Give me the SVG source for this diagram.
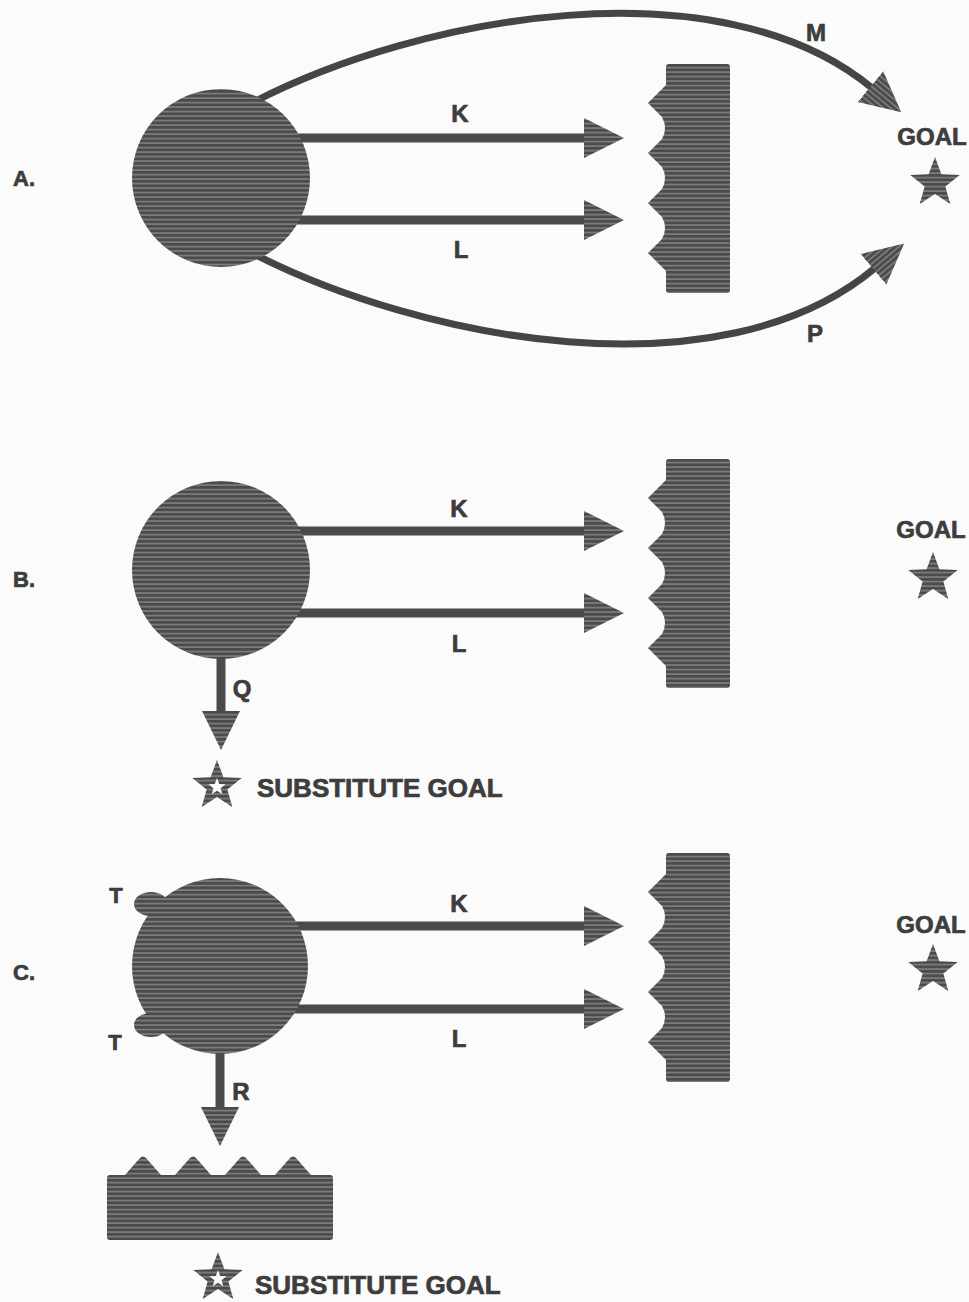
<svg xmlns="http://www.w3.org/2000/svg" width="969" height="1302" viewBox="0 0 969 1302">
<style>
.lbl{font-family:"Liberation Sans",Arial,sans-serif;font-weight:bold;fill:#3d3d3d;stroke:#3d3d3d;stroke-width:0.7;text-anchor:middle}
.sub{font-family:"Liberation Sans",Arial,sans-serif;font-weight:bold;fill:#3d3d3d;stroke:#3d3d3d;stroke-width:0.7}
.hat{fill:url(#h)}
.ln{stroke:#4a4a4a;stroke-width:9;fill:none}
.arc{stroke:#454545;stroke-width:7;fill:none}
</style>
<defs>
<pattern id="h" width="10" height="4.5" patternUnits="userSpaceOnUse">
<rect width="10" height="4.5" fill="#7a7a7a"/>
<rect width="10" height="2.7" fill="#4b4b4b"/>
</pattern>
<marker id="ah" markerUnits="userSpaceOnUse" markerWidth="42" markerHeight="42" viewBox="0 -21 42 42" refX="2" refY="0" orient="auto">
<path d="M0,-20 L40,0 L0,20 Z" fill="url(#h)"/>
</marker>
<marker id="ahd" markerUnits="userSpaceOnUse" markerWidth="42" markerHeight="42" viewBox="-21 0 42 42" refX="0" refY="2" orient="0">
<path d="M-19,0 L0,39 L19,0 Z" fill="url(#h)"/>
</marker>
<path id="barrier" d="M18,3 Q18,0 21,0 H79 Q82,0 82,3 V226 Q82,229 79,229 H21 Q18,229 18,226 V207 L1,190 Q-1,189 1,188 L14,175 Q20,164 14,153 L1,140 Q-1,139 1,138 L14,125 Q20,114 14,103 L1,90 Q-1,89 1,88 L14,75 Q20,64 14,53 L1,40 Q-1,39 1,38 L18,21 Z"/>
<path id="star" d="M0,-26 L6.42,-8.84 L24.73,-8.03 L10.37,3.38 L15.29,21.03 L0,10.92 L-15.29,21.03 L-10.37,3.38 L-24.73,-8.03 L-6.42,-8.84 Z"/>
<path id="istar" d="M0,-9 L2.22,-3.06 L8.56,-2.78 L3.59,1.17 L5.29,7.28 L0,3.78 L-5.29,7.28 L-3.59,1.17 L-8.56,-2.78 L-2.22,-3.06 Z"/>
</defs>
<rect width="969" height="1302" fill="#fbfbfb"/>

<g id="connectors">
<path class="ln" d="M290,138 H586" marker-end="url(#ah)"/>
<path class="ln" d="M290,220 H586" marker-end="url(#ah)"/>
<path class="arc" d="M250,104 C420,15 720,-38 872,88" marker-end="url(#ah)"/>
<path class="arc" d="M250,252 C420,340 720,398 875,268" marker-end="url(#ah)"/>
<path class="ln" d="M290,531 H586" marker-end="url(#ah)"/>
<path class="ln" d="M290,613 H586" marker-end="url(#ah)"/>
<path class="ln" d="M221,640 V713" marker-end="url(#ahd)"/>
<path class="ln" d="M290,926 H586" marker-end="url(#ah)"/>
<path class="ln" d="M290,1009 H586" marker-end="url(#ah)"/>
<path class="ln" d="M220,1040 V1109" marker-end="url(#ahd)"/>
</g>

<g id="labels-connectors">
<text class="lbl" x="460" y="122" font-size="24">K</text>
<text class="lbl" x="461" y="258" font-size="24">L</text>
<text class="lbl" x="816" y="41" font-size="24">M</text>
<text class="lbl" x="815" y="342" font-size="24">P</text>
<text class="lbl" x="459" y="517" font-size="24">K</text>
<text class="lbl" x="459" y="652" font-size="24">L</text>
<text class="lbl" x="242" y="697" font-size="24">Q</text>
<text class="lbl" x="459" y="912" font-size="24">K</text>
<text class="lbl" x="459" y="1047" font-size="24">L</text>
<text class="lbl" x="241" y="1100" font-size="24">R</text>
</g>

<g id="panel-labels">
<text class="lbl" x="24" y="186" font-size="22">A.</text>
<text class="lbl" x="24" y="587" font-size="22">B.</text>
<text class="lbl" x="24" y="980" font-size="22">C.</text>
</g>

<g id="personA"><circle class="hat" cx="221" cy="178" r="89"/></g>
<g id="barrierA"><use href="#barrier" class="hat" transform="translate(648,64)"/></g>
<g id="goalA">
<text class="lbl" x="932" y="145" font-size="24">GOAL</text>
<use href="#star" class="hat" transform="translate(935,183)"/>
</g>

<g id="personB"><circle class="hat" cx="221" cy="570" r="89"/></g>
<g id="barrierB"><use href="#barrier" class="hat" transform="translate(648,459)"/></g>
<g id="goalB">
<text class="lbl" x="931" y="538" font-size="24">GOAL</text>
<use href="#star" class="hat" transform="translate(933,578)"/>
</g>
<g id="substituteB">
<use href="#star" class="hat" transform="translate(217,786)"/>
<use href="#istar" fill="#fbfbfb" transform="translate(217,787)"/>
<text class="sub" x="257" y="797" font-size="26">SUBSTITUTE GOAL</text>
</g>

<g id="personC">
<ellipse class="hat" cx="151" cy="904" rx="17" ry="12"/>
<ellipse class="hat" cx="151" cy="1025" rx="17" ry="12"/>
<circle class="hat" cx="220" cy="966" r="88"/>
<text class="lbl" x="116" y="903" font-size="22">T</text>
<text class="lbl" x="115" y="1050" font-size="22">T</text>
</g>
<g id="barrierC"><use href="#barrier" class="hat" transform="translate(648,853)"/></g>
<g id="goalC">
<text class="lbl" x="931" y="933" font-size="24">GOAL</text>
<use href="#star" class="hat" transform="translate(933,970)"/>
</g>
<g id="barrierC2">
<path class="hat" d="M110,1175 H125 L140,1158 Q143,1155 146,1158 L161,1175 H175 L190,1158 Q193,1155 196,1158 L211,1175 H225 L240,1158 Q243,1155 246,1158 L261,1175 H275 L290,1158 Q293,1155 296,1158 L311,1175 H330 Q333,1175 333,1178 V1237 Q333,1240 330,1240 H110 Q107,1240 107,1237 V1178 Q107,1175 110,1175 Z"/>
</g>
<g id="substituteC">
<use href="#star" class="hat" transform="translate(218,1278)"/>
<use href="#istar" fill="#fbfbfb" transform="translate(218,1279)"/>
<text class="sub" x="255" y="1294" font-size="26">SUBSTITUTE GOAL</text>
</g>
</svg>
